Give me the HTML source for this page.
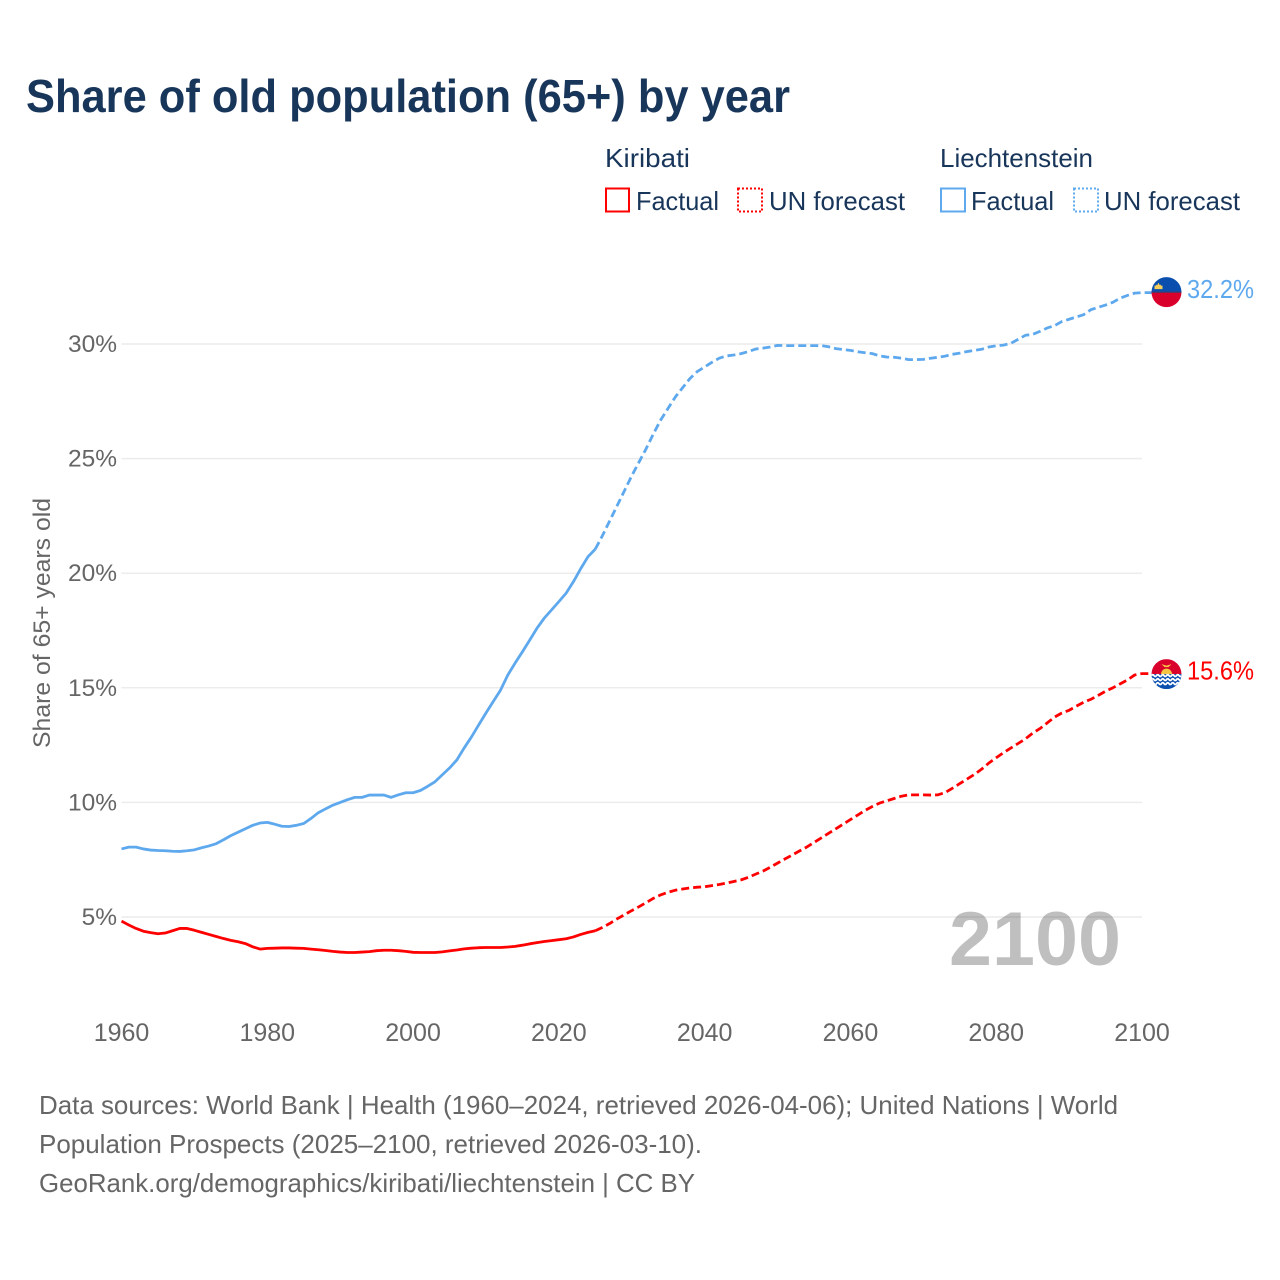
<!DOCTYPE html>
<html lang="en">
<head>
<meta charset="utf-8">
<title>Share of old population (65+) by year</title>
<style>
html,body{margin:0;padding:0;background:#fff;}
svg{display:block;font-family:"Liberation Sans",Arial,sans-serif;}
</style>
</head>
<body>
<svg id="chart" xmlns="http://www.w3.org/2000/svg" width="1280" height="1280" viewBox="0 0 1280 1280">
  <defs>
    <clipPath id="flag-clip"><circle cx="0" cy="0" r="15"/></clipPath>
  </defs>
  <rect x="0" y="0" width="1280" height="1280" fill="#fff"/>
  <text x="26" y="112" font-size="46" font-weight="700" fill="#18355a" textLength="764" lengthAdjust="spacingAndGlyphs">Share of old population (65+) by year</text>

  <g font-size="26" fill="#18355a">
    <text x="605" y="167" textLength="85" lengthAdjust="spacingAndGlyphs">Kiribati</text>
    <rect x="606" y="188.500" width="23" height="23" fill="none" stroke="#ff0000" stroke-width="2"/>
    <text x="636" y="210" textLength="83" lengthAdjust="spacingAndGlyphs">Factual</text>
    <rect x="738" y="188.500" width="24" height="23" fill="none" stroke="#ff0000" stroke-width="2" stroke-dasharray="2 2"/>
    <text x="769" y="210" textLength="136" lengthAdjust="spacingAndGlyphs">UN forecast</text>
    <text x="940" y="167" textLength="153" lengthAdjust="spacingAndGlyphs">Liechtenstein</text>
    <rect x="941" y="188.500" width="24" height="23" fill="none" stroke="#5ea8ee" stroke-width="2"/>
    <text x="971" y="210" textLength="83" lengthAdjust="spacingAndGlyphs">Factual</text>
    <rect x="1074" y="188.500" width="24" height="23" fill="none" stroke="#5ea8ee" stroke-width="2" stroke-dasharray="2 2"/>
    <text x="1104" y="210" textLength="136" lengthAdjust="spacingAndGlyphs">UN forecast</text>
  </g>

  <g id="grid"></g>
  <g id="yticks"></g>
  <g id="xticks"></g>
  <text transform="translate(50,623) rotate(-90)" text-anchor="middle" font-size="24.5" fill="#666" textLength="250" lengthAdjust="spacingAndGlyphs">Share of 65+ years old</text>
  <text x="1121" y="965" text-anchor="end" font-size="76" font-weight="700" fill="#000" fill-opacity="0.25" textLength="172" lengthAdjust="spacingAndGlyphs">2100</text>
  <g id="series"></g>
  <g id="ends"></g>

  <g font-size="26" fill="#666">
    <text x="39" y="1114" textLength="1079" lengthAdjust="spacingAndGlyphs">Data sources: World Bank | Health (1960–2024, retrieved 2026-04-06); United Nations | World</text>
    <text x="39" y="1153" textLength="663" lengthAdjust="spacingAndGlyphs">Population Prospects (2025–2100, retrieved 2026-03-10).</text>
    <text x="39" y="1192" textLength="656" lengthAdjust="spacingAndGlyphs">GeoRank.org/demographics/kiribati/liechtenstein | CC BY</text>
  </g>
</svg>
<script>
const startYear = 1960;
const lastFactualYear = 2025;
const xTickYears = [1960,1980,2000,2020,2040,2060,2080,2100];
const yTickValues = [5,10,15,20,25,30];
const kiribatiValues = [
4.82,4.65,4.5,4.38,4.32,4.27,4.3,4.4,4.5,4.5,
4.42,4.33,4.24,4.15,4.06,3.98,3.92,3.84,3.7,3.6,
3.63,3.64,3.65,3.65,3.64,3.63,3.6,3.57,3.54,3.5,
3.47,3.45,3.45,3.47,3.49,3.53,3.55,3.55,3.53,3.5,
3.46,3.45,3.45,3.45,3.48,3.52,3.56,3.61,3.64,3.66,
3.67,3.67,3.67,3.69,3.72,3.77,3.83,3.88,3.93,3.97,
4.01,4.05,4.13,4.24,4.33,4.4,
4.55,4.72,4.92,5.1,5.28,5.45,5.63,5.82,5.97,6.08,
6.17,6.22,6.27,6.3,6.32,6.37,6.42,6.48,6.55,6.62,
6.73,6.87,7.0,7.17,7.35,7.53,7.7,7.88,8.05,8.25,
8.45,8.65,8.85,9.05,9.25,9.45,9.65,9.82,9.97,10.07,
10.17,10.27,10.33,10.33,10.33,10.32,10.33,10.43,10.62,10.82,
11.02,11.22,11.45,11.72,11.95,12.17,12.37,12.57,12.77,13.02,
13.22,13.47,13.72,13.9,14.02,14.2,14.37,14.5,14.67,14.85,
15.0,15.17,15.34,15.56,15.62
];
const liechtensteinValues = [
7.97,8.05,8.05,7.97,7.92,7.9,7.89,7.87,7.86,7.89,
7.93,8.02,8.1,8.2,8.37,8.55,8.7,8.85,9.0,9.1,
9.13,9.05,8.96,8.95,9.0,9.08,9.3,9.55,9.72,9.88,
10.0,10.12,10.22,10.22,10.32,10.32,10.32,10.22,10.33,10.42,
10.42,10.52,10.7,10.9,11.2,11.5,11.85,12.37,12.85,13.38,
13.9,14.4,14.9,15.56,16.08,16.57,17.08,17.6,18.04,18.4,
18.76,19.13,19.63,20.2,20.72,21.05,
21.65,22.3,22.95,23.6,24.25,24.85,25.45,26.1,26.7,27.2,
27.7,28.1,28.5,28.8,29.0,29.2,29.38,29.48,29.52,29.58,
29.67,29.78,29.82,29.87,29.94,29.93,29.93,29.93,29.93,29.93,
29.93,29.88,29.8,29.76,29.72,29.66,29.62,29.58,29.48,29.43,
29.42,29.38,29.32,29.32,29.33,29.38,29.42,29.47,29.55,29.6,
29.67,29.72,29.77,29.87,29.92,29.95,30.03,30.2,30.38,30.42,
30.55,30.7,30.8,30.98,31.08,31.18,31.28,31.5,31.6,31.7,
31.82,32.0,32.12,32.22,32.24
];

const NS = 'http://www.w3.org/2000/svg';
const flagX = 1166.5;
function xScale(year){ return 121.5 + (year - 1960) * (1142 - 121.5) / 140; }
function yScale(v){ return 917 - (v - 5) * (917 - 344) / 25; }
function make(tag, attrs, parent){
  const el = document.createElementNS(NS, tag);
  for (const k in attrs) el.setAttribute(k, attrs[k]);
  parent.appendChild(el);
  return el;
}
function pathFor(values, from, to){
  let d = '';
  for (let i = from; i <= to; i++) {
    d += (i === from ? 'M' : 'L') + xScale(startYear + i).toFixed(2) + ' ' + yScale(values[i]).toFixed(2);
  }
  return d;
}

const grid = document.getElementById('grid');
const yticks = document.getElementById('yticks');
yTickValues.forEach(function(v){
  const line = make('line', {x1:xScale(1960), x2:xScale(2100), y1:yScale(v), y2:yScale(v), stroke:'#ececec', 'stroke-width':1.5}, grid);
  
  
  const t = make('text', {x:117, y:yScale(v)+8, 'text-anchor':'end', 'font-size':24.5, fill:'#666'}, yticks);
  
  
  t.textContent = v + '%';
});

const xticks = document.getElementById('xticks');
xTickYears.forEach(function(y){
  const t = make('text', {x:xScale(y), y:1041, 'text-anchor':'middle', 'font-size':25, fill:'#666'}, xticks);
  
  
  t.textContent = y;
});

const series = document.getElementById('series');
const splitIndex = lastFactualYear - startYear;
const common = {fill:'none', 'stroke-width':2.8, 'stroke-linejoin':'round'};
function drawSeries(values, color, key){
  const a = make('path', Object.assign({d:pathFor(values, 0, splitIndex), stroke:color}, common), series);
  
  
  const endY = yScale(values[values.length - 1]).toFixed(2);
  const forecastPath = pathFor(values, splitIndex, values.length - 1) + 'L' + (flagX - 14) + ' ' + endY;
  const b = make('path', Object.assign({d:forecastPath, stroke:color, 'stroke-dasharray':'8 4'}, common), series);
  
  
}
drawSeries(liechtensteinValues, '#5ea8ee', 'liechtenstein');
drawSeries(kiribatiValues, '#ff0000', 'kiribati');

const ends = document.getElementById('ends');

// Liechtenstein end marker
const lVal = liechtensteinValues[liechtensteinValues.length - 1];
const lY = yScale(lVal);
const lFlag = make('g', {transform:'translate(' + flagX + ',' + (lY - 0.5) + ')'}, ends);


make('path', {d:'M-15 0A15 15 0 0 1 15 0Z', fill:'#0b4fae'}, lFlag);
make('path', {d:'M-15 0A15 15 0 0 0 15 0Z', fill:'#d9002b'}, lFlag);
make('rect', {x:-15, y:-0.6, width:30, height:1.2, fill:'#3a3f70'}, lFlag);
make('path', {d:'M-12 -3h8v-3.5h-1.500l-0.500 -1h-1.500v-1.500h-1v1.500h-1.500l-0.500 1h-1.500z', fill:'#f5cf5a'}, lFlag);
const lLabel = make('text', {x:1254, y:lY+5.5, 'text-anchor':'end', 'font-size':25.5, fill:'#5ea8ee', textLength:67, lengthAdjust:'spacingAndGlyphs'}, ends);


lLabel.textContent = lVal.toFixed(1) + '%';

// Kiribati end marker
const kVal = kiribatiValues[kiribatiValues.length - 1];
const kY = yScale(kVal);
const kFlag = make('g', {transform:'translate(' + flagX + ',' + (kY + 0.5) + ')'}, ends);


const kClip = make('g', {'clip-path':'url(#flag-clip)'}, kFlag);
make('rect', {x:-15, y:-15, width:30, height:15, fill:'#d9002b'}, kClip);
make('rect', {x:-15, y:0, width:30, height:15, fill:'#0b4fae'}, kClip);
make('path', {d:'M-5.500 0A5.500 5.500 0 0 1 5.500 0Z', fill:'#f6c544'}, kClip);
make('path', {d:'M-5 -10l5 1.500l5 -1.500l-3 3h-4z', fill:'#f6c544'}, kClip);
const waveRows = [1.5, 5.5, 9.5];
waveRows.forEach(function(y){
  let d = 'M-15 ' + y;
  for (let n = 0; n < 6; n++) {
    d += 'q1.250 -1.800 2.500 0t2.500 0';
  }
  make('path', {d:d, fill:'none', stroke:'#fff', 'stroke-width':1.8}, kClip);
});
const kLabel = make('text', {x:1254, y:kY+6, 'text-anchor':'end', 'font-size':25.5, fill:'#ff0000', textLength:67, lengthAdjust:'spacingAndGlyphs'}, ends);


kLabel.textContent = kVal.toFixed(1) + '%';
</script>
</body>
</html>
